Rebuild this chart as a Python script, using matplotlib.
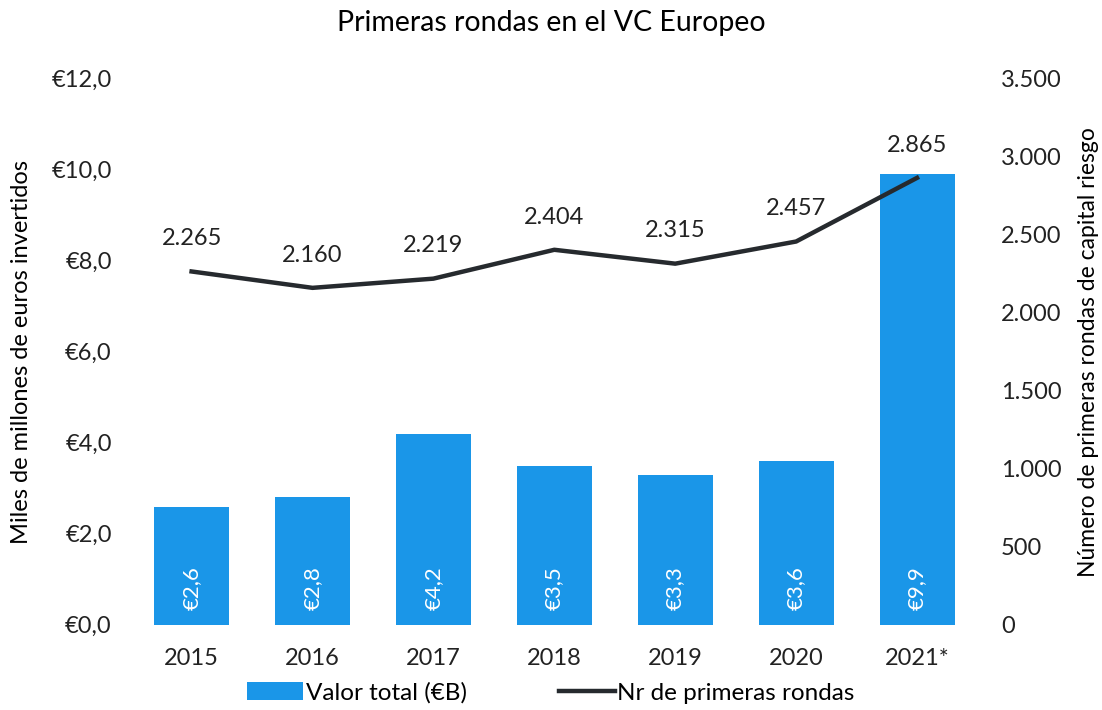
import numpy as np
import matplotlib.pyplot as plt
from matplotlib.ticker import FuncFormatter

years = ['2015', '2016', '2017', '2018', '2019', '2020', '2021*']
valor = [2.6, 2.8, 4.2, 3.5, 3.3, 3.6, 9.9]
rondas = [2265, 2160, 2219, 2404, 2315, 2457, 2865]

plt.rcParams['font.family'] = ['Lato', 'DejaVu Sans']

bar_color = '#1a96e8'
line_color = '#262a2e'


def fmt_eur(v, pos=None):
    return '€' + f'{v:.1f}'.replace('.', ',')


def fmt_int(v, pos=None):
    return f'{int(v):,}'.replace(',', '.')


fig = plt.figure(figsize=(11.02, 7.10), dpi=100)
ax = fig.add_axes([0.119, 0.120, 0.768, 0.769])
ax2 = ax.twinx()

x = np.arange(len(years))
bars = ax.bar(x, valor, width=0.62, color=bar_color, label='Valor total (€B)', zorder=2)
for xi, v in zip(x, valor):
    ax.annotate(fmt_eur(v), (xi, 0), xytext=(0, 11), textcoords='offset points',
                rotation=90, ha='center', va='bottom', color='white', fontsize=16)

ln, = ax2.plot(x, rondas, color=line_color, lw=3.2, label='Nr de primeras rondas', zorder=3)
for xi, r in zip(x, rondas):
    ax2.annotate(fmt_int(r), (xi, r), xytext=(0, 16), textcoords='offset points',
                 ha='center', va='bottom', fontsize=17, color='#222222')

ax.set_xlim(-0.5, len(years) - 0.5)
ax.set_ylim(0, 12)
ax.set_yticks(np.arange(0, 12.1, 2))
ax.yaxis.set_major_formatter(FuncFormatter(fmt_eur))
ax2.set_ylim(0, 3500)
ax2.set_yticks(np.arange(0, 3501, 500))
ax2.yaxis.set_major_formatter(FuncFormatter(fmt_int))
ax.set_xticks(x)
ax.set_xticklabels(years)

for a in (ax, ax2):
    for s in a.spines.values():
        s.set_visible(False)
    a.tick_params(length=0, labelsize=17, colors='#222222')
ax.tick_params(axis='y', pad=14)
ax2.tick_params(axis='y', pad=17)
ax.tick_params(axis='x', pad=17)

ax.set_ylabel('Miles de millones de euros invertidos', fontsize=17)
ax.yaxis.set_label_coords(-0.117, 0.5)
ax2.set_ylabel('Número de primeras rondas de capital riesgo', fontsize=16.5)
ax2.yaxis.set_label_coords(1.119, 0.5)
fig.suptitle('Primeras rondas en el VC Europeo', fontsize=20.5, y=0.967, va='center')

fig.legend([bars, ln], ['Valor total (€B)', 'Nr de primeras rondas'], loc='center',
           bbox_to_anchor=(0.5, 1 - 693 / 710), ncol=2, frameon=False, fontsize=17.5,
           handlelength=2.3, handleheight=0.75, handletextpad=0.1, columnspacing=3.8)

fig.savefig('out.png', dpi=100)
